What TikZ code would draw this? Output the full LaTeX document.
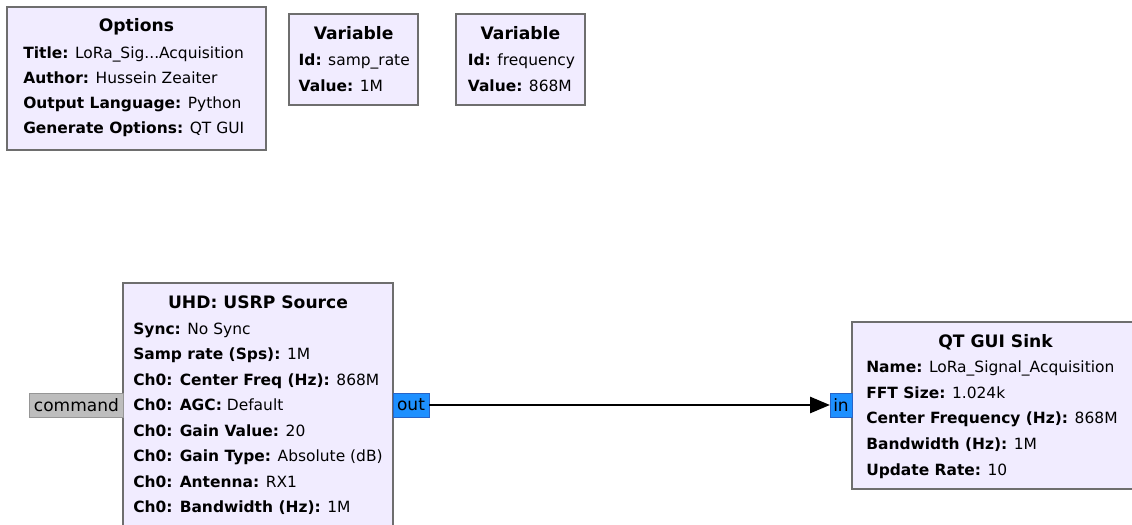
\documentclass[tikz,border=0pt]{standalone}
\usepackage{fontspec}
\setmainfont{DejaVu Sans}
\usetikzlibrary{arrows.meta}
\definecolor{blockfill}{RGB}{241,236,255}
\definecolor{blockline}{RGB}{110,110,110}
\definecolor{portblue}{RGB}{30,144,255}
\definecolor{portblueline}{RGB}{40,100,200}
\definecolor{portgray}{RGB}{189,189,189}
\definecolor{portgrayline}{RGB}{150,150,150}

\begin{document}
\begin{tikzpicture}[
    block/.style={draw=blockline, line width=1.8pt, fill=blockfill, inner sep=0pt},
    heading/.style={anchor=base, inner sep=0pt, font=\fontsize{12.2}{14}\selectfont\bfseries},
    param/.style={anchor=base west, inner sep=0pt, font=\fontsize{11}{13}\selectfont},
    port/.style={draw, line width=0.7pt, inner sep=0pt, outer sep=0pt, minimum height=0.6cm,
      font=\fontsize{12.1}{14}\selectfont},
    ]
      \useasboundingbox (0,0) rectangle (28.3,13.1);

      % options block
      \node at (3.41,11.14)
      [block, minimum width=6.48cm, minimum height=3.58cm, name=opts] {};
      \node at (3.41,12.3) [heading, name=optstitle] {Options};
      \node at (0.575,11.625) [param, name=opts1] {\textbf{Title:} LoRa\_Sig...Acquisition};
      \node at (0.575,11.0) [param, name=opts2] {\textbf{Author:} Hussein Zeaiter};
      \node at (0.575,10.375) [param, name=opts3] {\textbf{Output Language:} Python};
      \node at (0.575,9.75) [param, name=opts4] {\textbf{Generate Options:} QT GUI};

      % variables
      \node at (8.84,11.61)
      [block, minimum width=3.23cm, minimum height=2.28cm, name=varsamp] {};
      \node at (8.84,12.1) [heading, name=varsamptitle] {Variable};
      \node at (7.46,11.46) [param, name=varsamp1] {\textbf{Id:} samp\_rate};
      \node at (7.46,10.81) [param, name=varsamp2] {\textbf{Value:} 1M};

      \node at (13.01,11.61)
      [block, minimum width=3.23cm, minimum height=2.28cm, name=varfreq] {};
      \node at (13.01,12.1) [heading, name=varfreqtitle] {Variable};
      \node at (11.69,11.46) [param, name=varfreq1] {\textbf{Id:} frequency};
      \node at (11.69,10.81) [param, name=varfreq2] {\textbf{Value:} 868M};

      % usrp source, runs off the bottom
      \node at (6.45,2.81)
      [block, minimum width=6.75cm, minimum height=6.43cm, name=usrp] {};
      \node at (6.45,5.4) [heading, name=usrptitle] {UHD: USRP Source};
      \node at (3.325,4.75) [param, name=usrp1] {\textbf{Sync:} No Sync};
      \node at (3.325,4.111) [param, name=usrp2] {\textbf{Samp rate (Sps):} 1M};
      \node at (3.325,3.472) [param, name=usrp3] {\textbf{Ch0: Center Freq (Hz):} 868M};
      \node at (3.325,2.833) [param, name=usrp4] {\textbf{Ch0: AGC:} Default};
      \node at (3.325,2.194) [param, name=usrp5] {\textbf{Ch0: Gain Value:} 20};
      \node at (3.325,1.555) [param, name=usrp6] {\textbf{Ch0: Gain Type:} Absolute (dB)};
      \node at (3.325,0.916) [param, name=usrp7] {\textbf{Ch0: Antenna:} RX1};
      \node at (3.325,0.277) [param, name=usrp8] {\textbf{Ch0: Bandwidth (Hz):} 1M};

      \node at (1.91,2.975)
      [port, draw=portgrayline, fill=portgray, minimum width=2.33cm, name=cmd] {command};
      \node at (10.275,2.975)
      [port, draw=portblueline, fill=portblue, minimum width=0.9cm, name=usrpout] {out};

      % qt gui sink
      \node at (24.9,2.96)
      [block, minimum width=7.2cm, minimum height=4.18cm, name=sink] {};
      \node at (24.89,4.425) [heading, name=sinktitle] {QT GUI Sink};
      \node at (21.65,3.78) [param, name=sink1] {\textbf{Name:} LoRa\_Signal\_Acquisition};
      \node at (21.65,3.141) [param, name=sink2] {\textbf{FFT Size:} 1.024k};
      \node at (21.65,2.502) [param, name=sink3] {\textbf{Center Frequency (Hz):} 868M};
      \node at (21.65,1.863) [param, name=sink4] {\textbf{Bandwidth (Hz):} 1M};
      \node at (21.65,1.224) [param, name=sink5] {\textbf{Update Rate:} 10};

      \node at (21.025,2.975)
      [port, draw=portblueline, fill=portblue, minimum width=0.55cm, name=sinkin] {in};

      \draw [line width=2pt, -{Triangle[length=0.5cm, width=0.4cm]}] (usrpout) -- (sinkin);
\end{tikzpicture}
\end{document}
